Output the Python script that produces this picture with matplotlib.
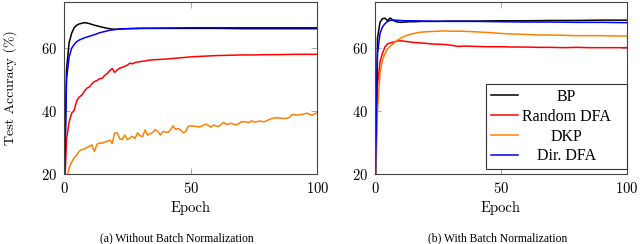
import matplotlib
matplotlib.use('Agg')
import matplotlib.pyplot as plt
import numpy as np

# valeurs (precision en %)
# (a) sans batch normalization
bp_a_ep = [0, 1, 2, 3, 4, 5, 6, 7, 8, 9, 10, 12, 14, 16, 18, 20, 22, 25, 30, 40, 50, 60, 70, 80, 90, 100]
bp_a = [10, 53, 61.5, 64.5, 66.3, 67.1, 67.5, 67.7, 67.9, 67.8, 67.6, 67.1, 66.7, 66.3, 66.0, 65.8, 65.9,
        66.0, 66.1, 66.1, 66.1, 66.1, 66.0, 66.0, 66.0, 66.0]

rdfa_a_ep = list(range(29)) + [30, 32, 34, 36, 38, 40, 43, 46, 50, 55, 60, 65, 70, 75, 80, 85, 90, 95, 100]
rdfa_a = [10, 31, 36.5, 39.3, 40.2, 43.2, 44.4, 45.0, 46.2, 47.2,
          47.6, 48.6, 49.3, 49.6, 50.2, 50.3, 51.2, 51.8, 52.7, 53.4,
          52.2, 53.0, 53.5, 53.8, 54.1, 54.5, 55.1, 54.9, 55.3,
          55.6, 55.8, 56.1, 56.2, 56.3, 56.4, 56.6, 56.8, 57.1, 57.3,
          57.5, 57.6, 57.7, 57.7, 57.8, 57.8, 57.9, 57.9, 57.9]

dkp_a_ep = list(range(101))
dkp_a = [10, 18, 22, 23.8, 25.2, 26.1, 27.3, 27.8, 28.0, 28.5,
         28.8, 29.3, 27.2, 29.5, 29.9, 29.8, 30.2, 30.4, 30.8, 29.7,
         33.0, 33.1, 31.2, 31.0, 32.4, 30.9, 31.5, 32.0, 31.3, 33.1,
         32.2, 31.9, 34.0, 32.4, 32.8, 33.2, 34.1, 33.6, 32.4, 33.5,
         33.4, 33.2, 34.0, 35.3, 34.2, 34.5, 34.0, 33.2, 33.4, 35.1,
         35.3, 35.2, 35.1, 35.0, 35.1, 35.5, 35.9, 35.4, 34.9, 35.6,
         35.3, 35.1, 35.8, 36.4, 35.8, 35.9, 36.1, 35.8, 35.6, 36.0,
         36.6, 36.6, 36.5, 36.3, 36.9, 36.5, 36.6, 36.8, 36.7, 36.6,
         36.9, 37.3, 37.6, 37.8, 37.9, 37.8, 37.7, 37.6, 37.7, 38.0,
         38.9, 38.8, 38.7, 38.8, 38.9, 39.1, 39.3, 38.9, 38.7, 39.2, 39.4]

ddfa_a_ep = [0, 1, 2, 3, 4, 5, 6, 8, 10, 12, 14, 16, 18, 20, 22, 25, 30, 40, 50, 60, 70, 80, 90, 100]
ddfa_a = [10, 50, 57, 59.8, 61, 61.9, 62.4, 63.1, 63.6, 64.1, 64.7, 65.1, 65.5, 65.7, 65.9, 66.0,
          66.1, 66.2, 66.3, 66.3, 66.3, 66.3, 66.3, 66.3]

# (b) avec batch normalization
bp_b_ep = [0, 1, 2, 3, 4, 5, 6, 7, 8, 9, 10, 12, 14, 16, 18, 20, 25, 30, 40, 50, 60, 70, 80, 90, 100]
bp_b = [10, 63, 68, 69.2, 69.3, 68.5, 69.4, 68.8, 68.3, 68.1, 68.0,
        68.1, 68.2, 68.2, 68.3, 68.3, 68.3, 68.4, 68.4, 68.5, 68.5, 68.6, 68.6, 68.7, 68.7]

rdfa_b_ep = list(range(13)) + [14, 16, 18, 20, 22, 25, 28, 30, 33, 36, 40, 45, 50, 55, 60, 65, 70, 75, 80,
                               85, 90, 95, 100]
rdfa_b = [10, 48, 55.5, 58.3, 60.3, 61.2, 61.5, 61.7, 61.9, 62.1, 62.2, 62.1, 62.0,
          61.8, 61.6, 61.5, 61.4, 61.2, 61.1, 61.0, 60.8, 60.4, 60.5,
          60.4, 60.3, 60.3, 60.2, 60.2, 60.1, 60.1, 60.0, 60.1, 60.0, 60.0, 60.0, 60.0]

dkp_b_ep = list(range(11)) + [12, 14, 16, 18, 20, 22, 25, 28, 30, 35, 40, 45, 50, 55, 60, 65, 70, 75, 80,
                              85, 90, 95, 100]
dkp_b = [10, 40, 51.9, 56.1, 58.2, 59.6, 60.4, 61.1, 61.8, 62.4, 62.9,
         63.7, 64.2, 64.6, 64.9, 65.0, 65.1, 65.2, 65.3, 65.2, 65.2,
         65.0, 64.8, 64.5, 64.3, 64.2, 64.0, 64.0, 63.9, 63.8, 63.8, 63.8, 63.7, 63.7]

ddfa_b_ep = [0, 1, 2, 3, 4, 5, 6, 7, 8, 10, 12, 15, 20, 30, 40, 50, 60, 70, 80, 90, 100]
ddfa_b = [10, 58, 64.5, 66.6, 67.6, 68.3, 68.6, 68.7, 68.7, 68.6, 68.5, 68.5, 68.4, 68.3, 68.3,
          68.2, 68.1, 68.1, 68.0, 68.0, 67.9]

noms = ['BP', 'Random DFA', 'DKP', 'Dir. DFA']
couleurs = ['black', '#ff0000', '#ff8000', '#0000ff']
yticks = [20, 40, 60]
xticks = [0, 50, 100]

plt.rcParams['font.family'] = 'cmr10'
plt.rcParams['axes.formatter.use_mathtext'] = True
plt.rcParams['mathtext.fontset'] = 'cm'

fig = plt.figure(figsize=(6.4, 2.44), dpi=100)
ax1 = fig.add_axes([0.1, 0.2857, 0.396, 0.707])
ax2 = fig.add_axes([0.5859, 0.2857, 0.3933, 0.707])

series_a = [(bp_a_ep, bp_a), (rdfa_a_ep, rdfa_a), (dkp_a_ep, dkp_a), (ddfa_a_ep, ddfa_a)]
series_b = [(bp_b_ep, bp_b), (rdfa_b_ep, rdfa_b), (dkp_b_ep, dkp_b), (ddfa_b_ep, ddfa_b)]

for ax, series in [(ax1, series_a), (ax2, series_b)]:
    for (ep, acc), nom, c in zip(series, noms, couleurs):
        ax.plot(ep, acc, color=c, lw=1.1, label=nom)
    ax.set_xlim(0, 100)
    ax.set_ylim(20, 74.5)
    ax.set_xticks(xticks)
    ax.set_yticks(yticks)
    ax.tick_params(direction='in', top=True, right=True, length=4.2, width=0.6, color='#999999',
                   labelsize=10.5, pad=5)
    for s in ax.spines.values():
        s.set_color('#444444')
        s.set_linewidth(0.8)
    ax.set_xlabel('Epoch', fontsize=10.5)
    ax.xaxis.set_label_coords(0.5, -0.155)

ax1.set_ylabel('Test Accuracy (%)', fontsize=10)
ax1.yaxis.set_label_coords(-0.186, 0.5)

leg = ax2.legend(loc='lower left', bbox_to_anchor=(0.441, 0.029, 0.559, 0.3), mode='expand',
                 borderaxespad=0, fancybox=False, framealpha=1, edgecolor='#333333',
                 prop={'family': 'Liberation Serif', 'size': 11.5}, handlelength=1.7,
                 handletextpad=0.25, labelspacing=0.24, borderpad=0.3)
leg.get_frame().set_linewidth(0.8)

# centrer le texte de la legende comme pgfplots
fig.canvas.draw()
renderer = fig.canvas.get_renderer()
textes = leg.get_texts()
largeurs = [t.get_window_extent(renderer).width for t in textes]
W = max(largeurs)
for t, w in zip(textes, largeurs):
    t.set_position(((W - w) / 2, 0))

fig.text(177 / 640, 1 - 238 / 244, '(a) Without Batch Normalization', ha='center', va='center',
         fontsize=8.4, family='Liberation Serif')
fig.text(497.5 / 640, 1 - 238 / 244, '(b) With Batch Normalization', ha='center', va='center',
         fontsize=8.4, family='Liberation Serif')

fig.savefig('out.png', dpi=100)
